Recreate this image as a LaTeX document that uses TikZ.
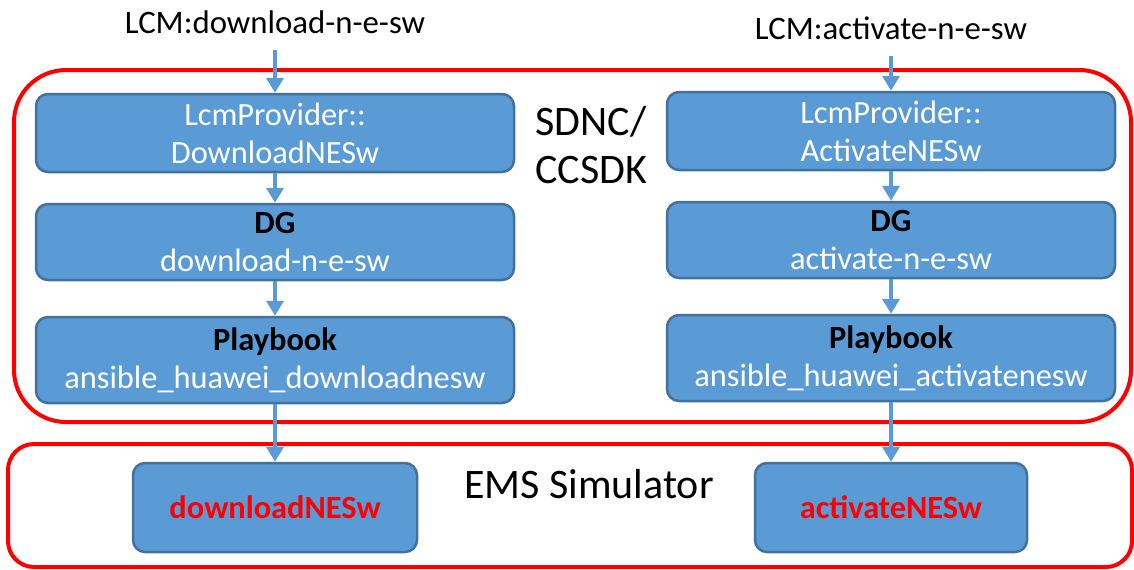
\documentclass[tikz,border=0pt]{standalone}
\usepackage{fontspec}
\setmainfont{Carlito}
\usetikzlibrary{arrows.meta}
\definecolor{boxfill}{HTML}{5B9BD5}
\definecolor{boxline}{HTML}{41719C}
\definecolor{arrcol}{HTML}{5B9BD5}
\definecolor{redc}{HTML}{FF0000}
\begin{document}
\begin{tikzpicture}[x=0.5pt,y=-0.5pt,
  blk/.style={draw=boxline, fill=boxfill, line width=1.25pt, rounded corners=6pt,
    align=center, text=white, font=\fontsize{16.2}{19}\selectfont, inner sep=0pt},
  redblk/.style={blk, text=redc, font=\fontsize{16.2}{19}\selectfont\bfseries},
  ttl/.style={anchor=base, inner xsep=0pt, inner ysep=8pt, font=\fontsize{16.4}{19}\selectfont},
  lbl/.style={font=\fontsize{21}{24}\selectfont, align=left, inner sep=0pt},
  arr/.style={draw=arrcol, line width=1.9pt, -{Triangle[length=7.5pt,width=8.5pt]}},
  redbox/.style={draw=redc, line width=2pt}]
\useasboundingbox (0,0) rectangle (1134,569);
% containers
\draw[redbox, rounded corners=26pt] (14,70) rectangle (1131,422);
\draw[redbox, rounded corners=13pt] (8,444) rectangle (1132,567);
\node[lbl, anchor=base west] (sdnc) at (535,183) {SDNC/\\CCSDK};
\node[lbl, anchor=base, font=\fontsize{21}{24}\selectfont] (ems) at (589,498) {EMS Simulator};
% left column
\node[ttl] (t1) at (275,33) {LCM:download-n-e-sw};
\node[blk, minimum width=239pt, minimum height=39pt] (l1) at (275,133) {LcmProvider::\\DownloadNESw};
\node[blk, minimum width=239pt, minimum height=38pt] (l2) at (275,242) {{\bfseries\color{black}DG}\\download-n-e-sw};
\node[blk, minimum width=239pt, minimum height=43pt] (l3) at (275,360) {{\bfseries\color{black}Playbook}\\ansible\_huawei\_downloadnesw};
\node[redblk, minimum width=142pt, minimum height=44.5pt] (l4) at (275,507.5) {downloadNESw};
% right column
\node[ttl] (t2) at (891,39) {LCM:activate-n-e-sw};
\node[blk, minimum width=224pt, minimum height=39pt] (r1) at (891,131) {LcmProvider::\\ActivateNESw};
\node[blk, minimum width=224pt, minimum height=38pt] (r2) at (891,240) {{\bfseries\color{black}DG}\\activate-n-e-sw};
\node[blk, minimum width=224pt, minimum height=43pt] (r3) at (891,358) {{\bfseries\color{black}Playbook}\\ansible\_huawei\_activatenesw};
\node[redblk, minimum width=136pt, minimum height=44.5pt] (r4) at (891,507.5) {activateNESw};
% connectors
\draw[arr] (t1) -- (l1);
\draw[arr] (l1) -- (l2);
\draw[arr] (l2) -- (l3);
\draw[arr] (l3) -- (l4);
\draw[arr] (t2) -- (r1);
\draw[arr] (r1) -- (r2);
\draw[arr] (r2) -- (r3);
\draw[arr] (r3) -- (r4);
\end{tikzpicture}
\end{document}
